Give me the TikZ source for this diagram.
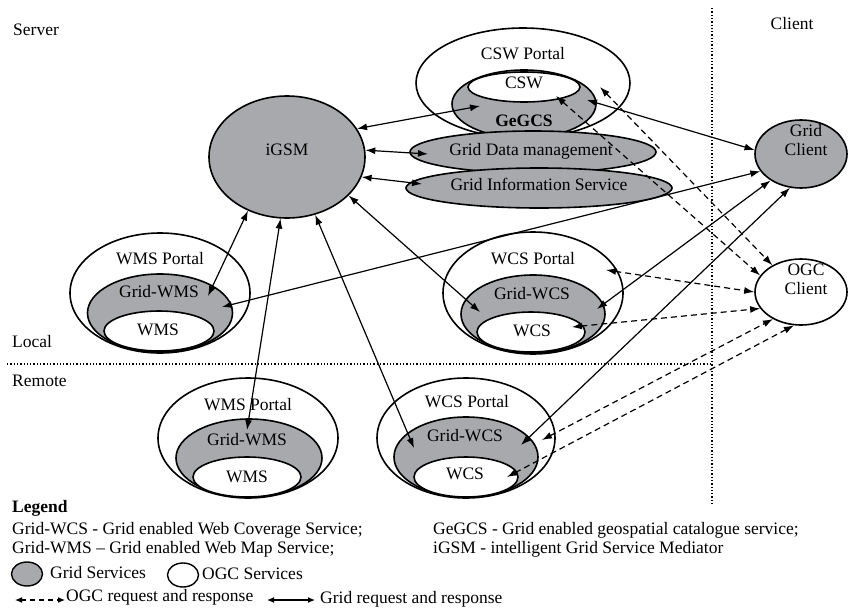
\documentclass[tikz,border=0pt]{standalone}
\usepackage{fontspec}
\setmainfont{Liberation Serif}
\usetikzlibrary{shapes.geometric,arrows.meta}

\definecolor{gridgray}{RGB}{167,169,172}

\tikzset{
  svc/.style={ellipse, draw, line width=1.6pt, inner sep=0pt},
  gridsvc/.style={svc, fill=gridgray},
  ogcsvc/.style={svc, fill=white},
  txt/.style={font=\fontsize{17.5}{20}\selectfont, inner sep=0pt,
              text height=0.68em, text depth=0.2em},
  ltxt/.style={txt, anchor=west},
  gridlink/.style={line width=1.2pt, {Latex[length=10pt,width=7pt]}-{Latex[length=10pt,width=7pt]}},
  ogclink/.style={gridlink, dash pattern=on 6pt off 4pt},
  keylink/.style={line width=1.2pt, {Latex[length=7pt,width=6pt]}-{Latex[length=7pt,width=6pt]}},
  divider/.style={line width=1.3pt, dash pattern=on 1.3pt off 2pt}
}

\begin{document}
\begin{tikzpicture}[x=1pt, y=-1pt]
\useasboundingbox (0,0) rectangle (848,613);

% zone dividers
\coordinate (vtop) at (712,8);
\coordinate (vbot) at (712,506);
\coordinate (hleft) at (7,364);
\coordinate (hright) at (712,364);
\draw[divider] (vtop) -- (vbot);
\draw[divider] (hleft) -- (hright);

\node[ltxt] (server) at (13,33) {Server};
\node[txt] (client) at (792,27) {Client};
\node[ltxt] (local) at (12,345) {Local};
\node[ltxt] (remote) at (12,384) {Remote};

% mediator
\node[gridsvc, minimum width=156pt, minimum height=122pt] (igsm) at (287,157) {};
\node[txt] (igsmt) at (287,153) {iGSM};

% catalogue portal
\node[ogcsvc, minimum width=214pt, minimum height=110pt] (cswp) at (523,83) {};
\node[gridsvc, minimum width=144pt, minimum height=68pt] (gegcs) at (524,104) {};
\node[ogcsvc, minimum width=112pt, minimum height=30pt] (csw) at (524,87) {};
\node[txt] (cswpt) at (523,57) {CSW Portal};
\node[txt] (cswt) at (524,86) {CSW};
\node[txt, font=\fontsize{17.5}{20}\selectfont\bfseries] (gegcst) at (524,124) {GeGCS};

% grid middleware
\node[gridsvc, minimum width=246pt, minimum height=42pt] (gdm) at (533,152) {};
\node[txt] (gdmt) at (531,153) {Grid Data management};
\node[gridsvc, minimum width=266pt, minimum height=40pt] (gis) at (539,188) {};
\node[txt] (gist) at (539,188) {Grid Information Service};

% clients
\node[gridsvc, minimum width=92pt, minimum height=68pt] (gclient) at (801,154) {};
\node[txt, align=center] (gclientt) at (806,153) {Grid\\[-1pt]Client};
\node[ogcsvc, minimum width=92pt, minimum height=66pt] (oclient) at (801,292) {};
\node[txt, align=center] (oclientt) at (806,292) {OGC\\[-1pt]Client};

% local WMS portal
\node[ogcsvc, minimum width=180pt, minimum height=120pt] (wmspl) at (160,293) {};
\node[gridsvc, minimum width=145pt, minimum height=78pt] (gwmsl) at (160,313) {};
\node[ogcsvc, minimum width=110pt, minimum height=40pt] (wmsl) at (159,331) {};
\node[txt] (wmsplt) at (160,262) {WMS Portal};
\node[txt] (gwmslt) at (159,295) {Grid-WMS};
\node[txt] (wmslt) at (158,333) {WMS};

% local WCS portal
\node[ogcsvc, minimum width=180pt, minimum height=122pt] (wcspl) at (533,293) {};
\node[gridsvc, minimum width=144pt, minimum height=78pt] (gwcsl) at (533,314) {};
\node[ogcsvc, minimum width=108pt, minimum height=40pt] (wcsl) at (531,332) {};
\node[txt] (wcsplt) at (533,262) {WCS Portal};
\node[txt] (gwcslt) at (532,297) {Grid-WCS};
\node[txt] (wcslt) at (532,334) {WCS};

% remote WMS portal
\node[ogcsvc, minimum width=180pt, minimum height=120pt] (wmspr) at (248,438) {};
\node[gridsvc, minimum width=146pt, minimum height=78pt] (gwmsr) at (249,458) {};
\node[ogcsvc, minimum width=108pt, minimum height=40pt] (wmsr) at (247,477) {};
\node[txt] (wmsprt) at (248,408) {WMS Portal};
\node[txt] (gwmsrt) at (247,443) {Grid-WMS};
\node[txt] (wmsrt) at (247,480) {WMS};

% remote WCS portal
\node[ogcsvc, minimum width=178pt, minimum height=120pt] (wcspr) at (466,438) {};
\node[gridsvc, minimum width=144pt, minimum height=80pt] (gwcsr) at (466,457) {};
\node[ogcsvc, minimum width=104pt, minimum height=40pt] (wcsr) at (466,477) {};
\node[txt] (wcsprt) at (467,405) {WCS Portal};
\node[txt] (gwcsrt) at (465,439) {Grid-WCS};
\node[txt] (wcsrt) at (465,477) {WCS};

% grid request/response links
\draw[gridlink] (igsm.22) -- ([shift={(-44,2)}]gegcs.center);
\draw[gridlink] (igsm.5) -- ([shift={(-105,2)}]gdm.center);
\draw[gridlink] (igsm.-15) -- ([shift={(-117,-4)}]gis.center);
\draw[gridlink] (igsm.-126) -- ([shift={(48,-17)}]gwmsl.center);
\draw[gridlink] (igsm.-96) -- ([shift={(-2,-28)}]gwmsr.center);
\draw[gridlink] (igsm.-64) -- ([shift={(-52,-9)}]gwcsr.center);
\draw[gridlink] (igsm.-32) -- ([shift={(-53,-2)}]gwcsl.center);
\draw[gridlink] ([shift={(63,-4)}]gegcs.center) -- (gclient.175);
\draw[gridlink] (gclient.203) -- ([shift={(62,-6)}]gwmsl.center);
\draw[gridlink] (gclient.221) -- ([shift={(64,-5)}]gwcsl.center);
\draw[gridlink] (gclient.252) -- ([shift={(55,-12)}]gwcsr.center);

% OGC request/response links
\draw[ogclink] ([shift={(77,4)}]cswp.center) -- (oclient.137);
\draw[ogclink] ([shift={(32,9)}]csw.center) -- (oclient.158);
\draw[ogclink] ([shift={(73,-23)}]wcspl.center) -- (oclient.180);
\draw[ogclink] ([shift={(41,-5)}]wcsl.center) -- (oclient.202);
\draw[ogclink] ([shift={(76,2)}]wcspr.center) -- (oclient.224);
\draw[ogclink] ([shift={(41,0)}]wcsr.center) -- (oclient.258);

% legend
\node[ltxt, font=\fontsize{17.5}{20}\selectfont\bfseries] (legend) at (12,510) {Legend};
\node[ltxt] (lg1) at (12,532) {Grid-WCS - Grid enabled Web Coverage Service;};
\node[ltxt] (lg2) at (12,551) {Grid-WMS – Grid enabled Web Map Service;};
\node[ltxt] (lg3) at (433,532) {GeGCS - Grid enabled geospatial catalogue service;};
\node[ltxt] (lg4) at (433,551) {iGSM - intelligent Grid Service Mediator};
\node[gridsvc, line width=1.4pt, minimum width=31pt, minimum height=24pt] (lgg) at (27,574) {};
\node[ltxt] (lggt) at (50,576) {Grid Services};
\node[ogcsvc, line width=1.4pt, minimum width=31pt, minimum height=24pt] (lgo) at (183,575) {};
\node[ltxt] (lgot) at (202,577) {OGC Services};
\coordinate (la1) at (15,600);
\coordinate (la2) at (65,600);
\draw[keylink, dash pattern=on 5pt off 4pt] (la1) -- (la2);
\node[ltxt] (lgat) at (66,599) {OGC request and response};
\coordinate (lb1) at (267,600);
\coordinate (lb2) at (315,600);
\draw[keylink] (lb1) -- (lb2);
\node[ltxt] (lgbt) at (320,601) {Grid request and response};
\end{tikzpicture}
\end{document}
